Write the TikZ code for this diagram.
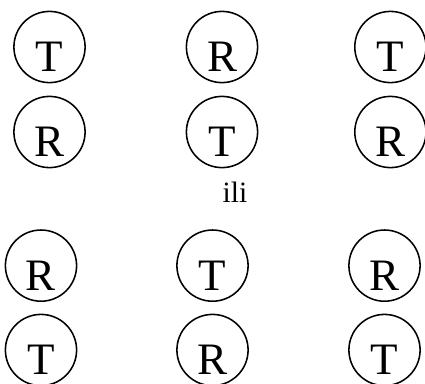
\documentclass[tikz,border=0pt]{standalone}
\usepackage{fontspec}
\setmainfont{Liberation Serif}
\usepackage{tikz}

\begin{document}
\begin{tikzpicture}[
		ring/.style={draw, circle, line width=1.1pt, inner sep=0pt, minimum size=1.78cm,
			font=\fontsize{32}{32}\selectfont, text height=35pt, text depth=0pt},
		lettre/.style={font=\fontsize{21}{21}\selectfont}]
				\useasboundingbox (0,0) rectangle (10.625,-9.575);
				
				% premier agencement
				\node[ring] (a1) at (1.2375,-1.175) {T};
				\node[ring] (a2) at (5.55,-1.175) {R};
				\node[ring] (a3) at (9.76,-1.175) {T};
				\node[ring] (b1) at (1.2375,-3.3) {R};
				\node[ring] (b2) at (5.55,-3.3) {T};
				\node[ring] (b3) at (9.76,-3.3) {R};
				
				\node[lettre, anchor=base] (ili) at (5.875,-5.05) {ili};
				
				% second agencement
				\node[ring] (c1) at (1.025,-6.64) {R};
				\node[ring] (c2) at (5.3125,-6.64) {T};
				\node[ring] (c3) at (9.6125,-6.64) {R};
				\node[ring] (d1) at (1.025,-8.75) {T};
				\node[ring] (d2) at (5.3125,-8.75) {R};
				\node[ring] (d3) at (9.6125,-8.75) {T};
			\end{tikzpicture}
\end{document}
